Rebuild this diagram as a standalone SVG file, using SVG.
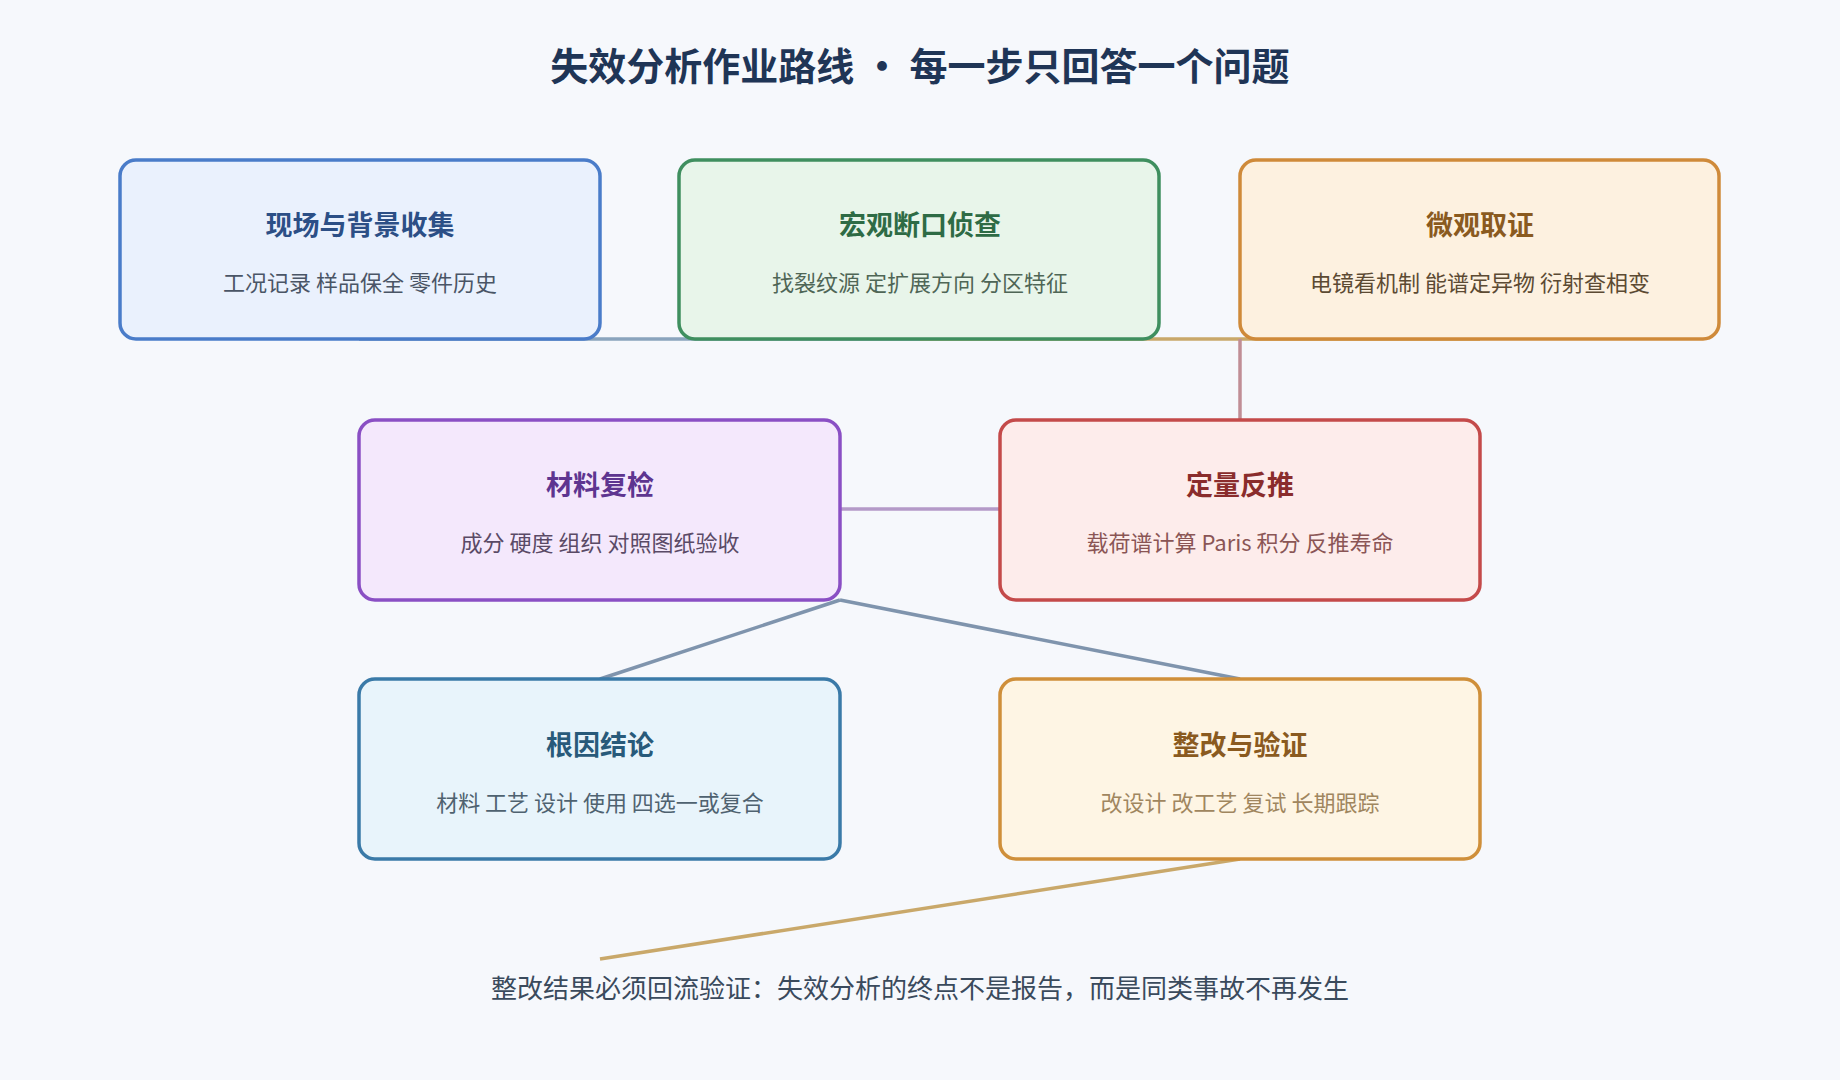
<svg xmlns="http://www.w3.org/2000/svg" width="1840" height="1080" viewBox="0 0 1840 1080">
<style>
text{font-family:"Noto Sans CJK SC","Noto Sans",sans-serif;text-anchor:middle}
.t{font-size:27px;font-weight:700}
.s{font-size:22px}
.box{stroke-width:3.5}
.c{fill:none;stroke-width:3.5}
</style>
<rect width="1840" height="1080" fill="#f6f8fc"/>
<text x="920" y="80" style="font-size:38px;font-weight:700" fill="#1f3556">失效分析作业路线 • 每一步只回答一个问题</text>
<g id="connectors">
<line class="c" x1="359" y1="339" x2="920" y2="339" stroke="#8aa4bd"/>
<line class="c" x1="920" y1="339" x2="1480" y2="339" stroke="#c9a86a"/>
<line class="c" x1="1240" y1="339" x2="1240" y2="420" stroke="#c08e96"/>
<line class="c" x1="1000" y1="509" x2="840" y2="509" stroke="#b49ac8"/>
<line class="c" x1="840" y1="600" x2="600" y2="679" stroke="#7f94ad"/>
<line class="c" x1="840" y1="600" x2="1240" y2="679" stroke="#7f94ad"/>
<line class="c" x1="1240" y1="859" x2="600" y2="959" stroke="#c9a86a"/>
</g>
<g id="n1"><rect class="box" x="120" y="160" width="480" height="179" rx="16" fill="#eaf1fd" stroke="#4a7cc9"/><text class="t" x="360" y="235" fill="#2c4f86">现场与背景收集</text><text class="s" x="360" y="291" fill="#4a5566">工况记录 样品保全 零件历史</text></g>
<g id="n2"><rect class="box" x="679" y="160" width="480" height="179" rx="16" fill="#e8f5ea" stroke="#3f8f5f"/><text class="t" x="920" y="235" fill="#2e6b45">宏观断口侦查</text><text class="s" x="920" y="291" fill="#4f6656">找裂纹源 定扩展方向 分区特征</text></g>
<g id="n3"><rect class="box" x="1240" y="160" width="479" height="179" rx="16" fill="#fdf1e0" stroke="#cf8a3a"/><text class="t" x="1480" y="235" fill="#8a5a1f">微观取证</text><text class="s" x="1480" y="291" fill="#5c4a33">电镜看机制 能谱定异物 衍射查相变</text></g>
<g id="n4"><rect class="box" x="359" y="420" width="481" height="180" rx="16" fill="#f4e8fc" stroke="#8a4fc4"/><text class="t" x="600" y="495" fill="#5e3590">材料复检</text><text class="s" x="600" y="551" fill="#5a4a66">成分 硬度 组织 对照图纸验收</text></g>
<g id="n5"><rect class="box" x="1000" y="420" width="480" height="180" rx="16" fill="#fdeceb" stroke="#c44a4a"/><text class="t" x="1240" y="495" fill="#8a2c2c">定量反推</text><text class="s" x="1240" y="551" fill="#8a5555">载荷谱计算 Paris 积分 反推寿命</text></g>
<g id="n6"><rect class="box" x="359" y="679" width="481" height="180" rx="16" fill="#e8f4fb" stroke="#3a7aa8"/><text class="t" x="600" y="755" fill="#285a7a">根因结论</text><text class="s" x="600" y="811" fill="#4f6270">材料 工艺 设计 使用 四选一或复合</text></g>
<g id="n7"><rect class="box" x="1000" y="679" width="480" height="180" rx="16" fill="#fef5e4" stroke="#cf8f3a"/><text class="t" x="1240" y="755" fill="#8a5a1f">整改与验证</text><text class="s" x="1240" y="811" fill="#a0865f">改设计 改工艺 复试 长期跟踪</text></g>
<text x="920" y="998" style="font-size:26px" fill="#3a4a5c">整改结果必须回流验证：失效分析的终点不是报告，而是同类事故不再发生</text>
</svg>
